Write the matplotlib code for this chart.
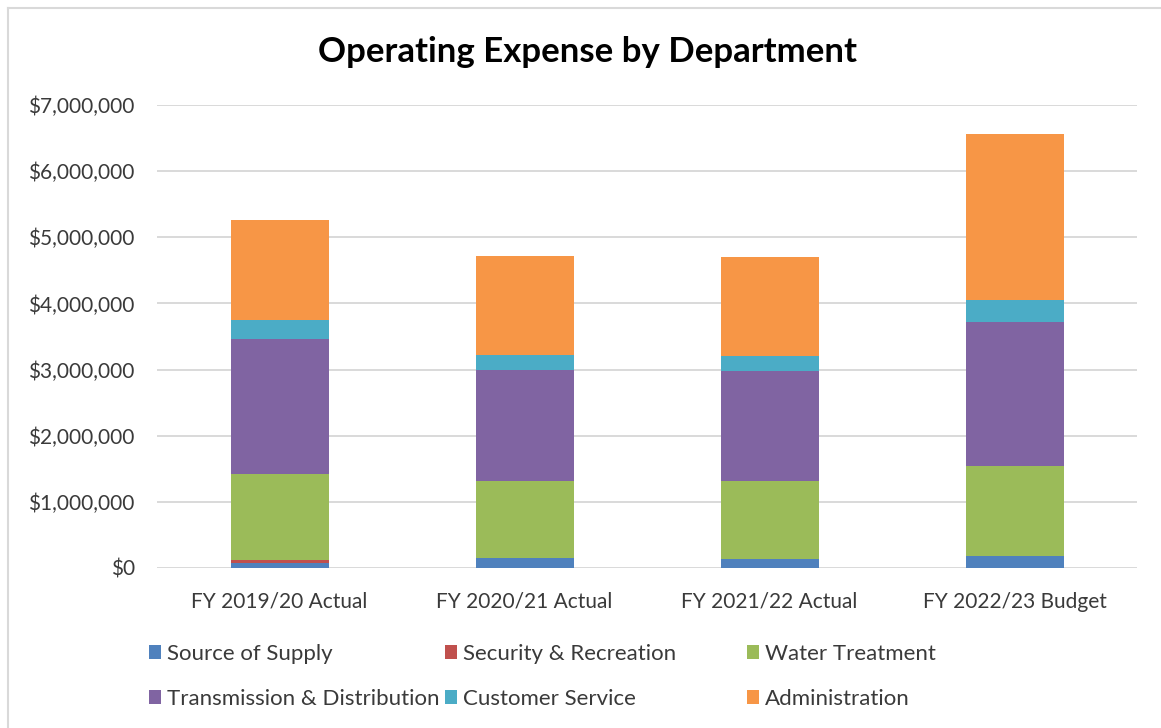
import matplotlib
matplotlib.use("Agg")
import matplotlib.pyplot as plt
from matplotlib.patches import Patch
from matplotlib.lines import Line2D
from matplotlib.ticker import FuncFormatter
import numpy as np

plt.rcParams['font.family'] = ['Lato', 'DejaVu Sans']

categories = ["FY 2019/20 Actual", "FY 2020/21 Actual", "FY 2021/22 Actual", "FY 2022/23 Budget"]
source_of_supply = [75000, 150000, 142000, 182000]
security_recreation = [40000, 0, 0, 0]
water_treatment = [1299000, 1166000, 1167000, 1359000]
transmission_distribution = [2041000, 1672000, 1676000, 2177000]
customer_service = [292000, 230000, 227000, 327000]
administration = [1513000, 1497000, 1495000, 2511000]

series_names = ["Source of Supply", "Security & Recreation", "Water Treatment",
                "Transmission & Distribution", "Customer Service", "Administration"]
series_values = [source_of_supply, security_recreation, water_treatment,
                 transmission_distribution, customer_service, administration]
colors = ["#4F81BD", "#C0504D", "#9BBB59", "#8064A2", "#4BACC6", "#F79646"]

fig = plt.figure(figsize=(11.61, 7.28), dpi=100)
ax = fig.add_axes([157/1161, 1-568/728, (1137-157)/1161, (568-105)/728])

x = np.arange(len(categories))
bottom = np.zeros(len(categories))
for name, vals, c in zip(series_names, series_values, colors):
    ax.bar(x, vals, width=0.40, bottom=bottom, color=c, linewidth=0, label=name, zorder=3)
    bottom += np.array(vals, dtype=float)

ax.set_xlim(-0.5, len(categories) - 0.5)
ax.set_ylim(0, 7000000)
ax.set_yticks(np.arange(0, 7000001, 1000000))
ax.yaxis.set_major_formatter(FuncFormatter(lambda v, p: "${:,.0f}".format(v)))
ax.set_xticks(x)
ax.set_xticklabels(categories)
ax.tick_params(axis='both', length=0, labelsize=15, colors="#3A3A3A")
ax.tick_params(axis='y', pad=16)
ax.tick_params(axis='x', pad=17)
ax.grid(axis='y', color="#D9D9D9", linewidth=1.4, zorder=0)
for s in ax.spines.values():
    s.set_visible(False)

fig.text(587.5/1161, 1-52/728, "Operating Expense by Department", ha='center', va='center',
         fontsize=25, fontweight='bold', color="#000000")

# legend: three columns placed like the original
col_x = [149, 445, 747]
for i in range(3):
    hs = [Patch(facecolor=colors[i], edgecolor='none'), Patch(facecolor=colors[i+3], edgecolor='none')]
    ls = [series_names[i], series_names[i+3]]
    fig.legend(hs, ls, loc='upper left', bbox_to_anchor=(col_x[i]/1161, 1-644/728),
               frameon=False, fontsize=16, handlelength=0.55, handleheight=0.55,
               handletextpad=0.25, labelspacing=1.12, borderpad=0, borderaxespad=0,
               labelcolor="#3A3A3A")

# chart border (left and top visible)
fig.add_artist(Line2D([7.5/1161, 7.5/1161], [0, 1-7.5/728], color="#D9D9D9", lw=1.5))
fig.add_artist(Line2D([7.5/1161, 1], [1-7.5/728, 1-7.5/728], color="#D9D9D9", lw=1.5))

fig.savefig("out.png", dpi=100, facecolor="white")
